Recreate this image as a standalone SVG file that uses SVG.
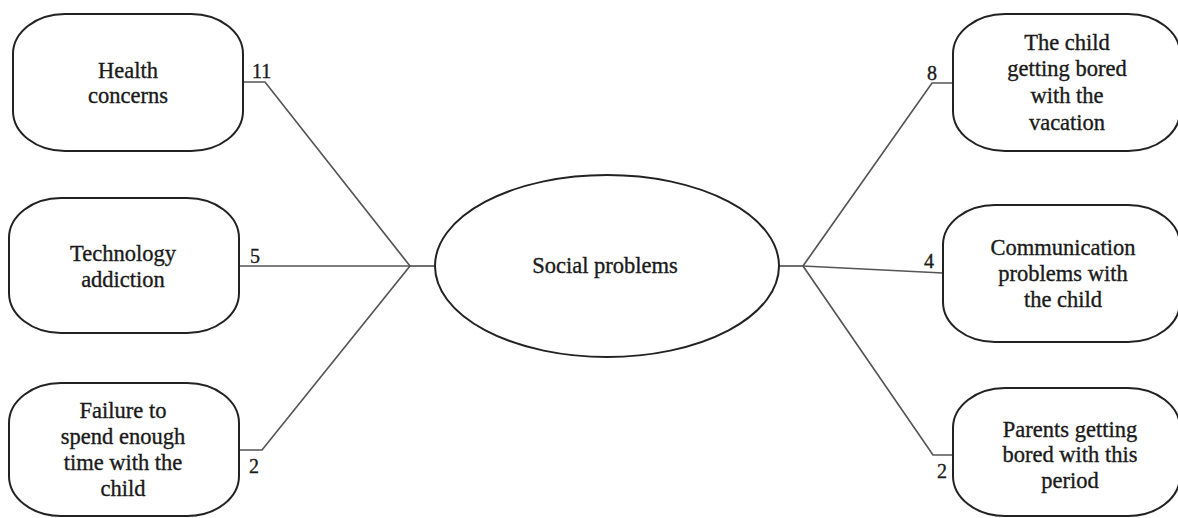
<svg xmlns="http://www.w3.org/2000/svg" width="1178" height="518" viewBox="0 0 1178 518">
<style>
.box{fill:#fff;stroke:#222;stroke-width:2}
.ln{fill:none;stroke:#555;stroke-width:1.7}
text{font-family:"Liberation Serif","Times New Roman",serif;font-size:22.5px;fill:#1a1a1a;stroke:#1a1a1a;stroke-width:0.35}
.c{text-anchor:middle}
.n{font-size:20px}
</style>
<rect width="1178" height="518" fill="#fff"/>
<g id="connectors">
<polyline class="ln" points="243,82 265,82 410,266"/>
<polyline class="ln" points="239,266 410,266"/>
<polyline class="ln" points="239,450 262,450 410,266"/>
<polyline class="ln" points="410,266 435,266"/>
<polyline class="ln" points="779,266 803,266"/>
<polyline class="ln" points="803,266 932,83 953,83"/>
<polyline class="ln" points="803,266 943,273"/>
<polyline class="ln" points="803,266 933,455 953,455"/>
<text class="n" x="252" y="78">11</text>
<text class="n" x="250" y="263">5</text>
<text class="n" x="249" y="473">2</text>
<text class="n" x="927" y="80">8</text>
<text class="n" x="924" y="268">4</text>
<text class="n" x="937" y="478">2</text>
</g>
<g id="center">
<ellipse class="box" cx="607" cy="266" rx="172" ry="91"/>
<text class="c" x="605" y="273">Social problems</text>
</g>
<g id="health">
<rect class="box" x="13" y="14" width="230" height="137" rx="52" ry="40"/>
<text class="c" x="128" y="78">Health</text>
<text class="c" x="128" y="103">concerns</text>
</g>
<g id="technology">
<rect class="box" x="9" y="198" width="230" height="135" rx="52" ry="40"/>
<text class="c" x="123" y="261">Technology</text>
<text class="c" x="123" y="287">addiction</text>
</g>
<g id="failure">
<rect class="box" x="9" y="383" width="230" height="133" rx="52" ry="40"/>
<text class="c" x="123" y="418">Failure to</text>
<text class="c" x="123" y="444">spend enough</text>
<text class="c" x="123" y="470">time with the</text>
<text class="c" x="123" y="496">child</text>
</g>
<g id="bored-child">
<rect class="box" x="953" y="14" width="227" height="137" rx="52" ry="40"/>
<text class="c" x="1067" y="50">The child</text>
<text class="c" x="1067" y="76">getting bored</text>
<text class="c" x="1067" y="103">with the</text>
<text class="c" x="1067" y="130">vacation</text>
</g>
<g id="communication">
<rect class="box" x="943" y="205" width="237" height="137" rx="52" ry="40"/>
<text class="c" x="1063" y="255">Communication</text>
<text class="c" x="1063" y="281">problems with</text>
<text class="c" x="1063" y="307">the child</text>
</g>
<g id="parents">
<rect class="box" x="953" y="388" width="227" height="128" rx="52" ry="40"/>
<text class="c" x="1070" y="437">Parents getting</text>
<text class="c" x="1070" y="462">bored with this</text>
<text class="c" x="1070" y="488">period</text>
</g>
</svg>
